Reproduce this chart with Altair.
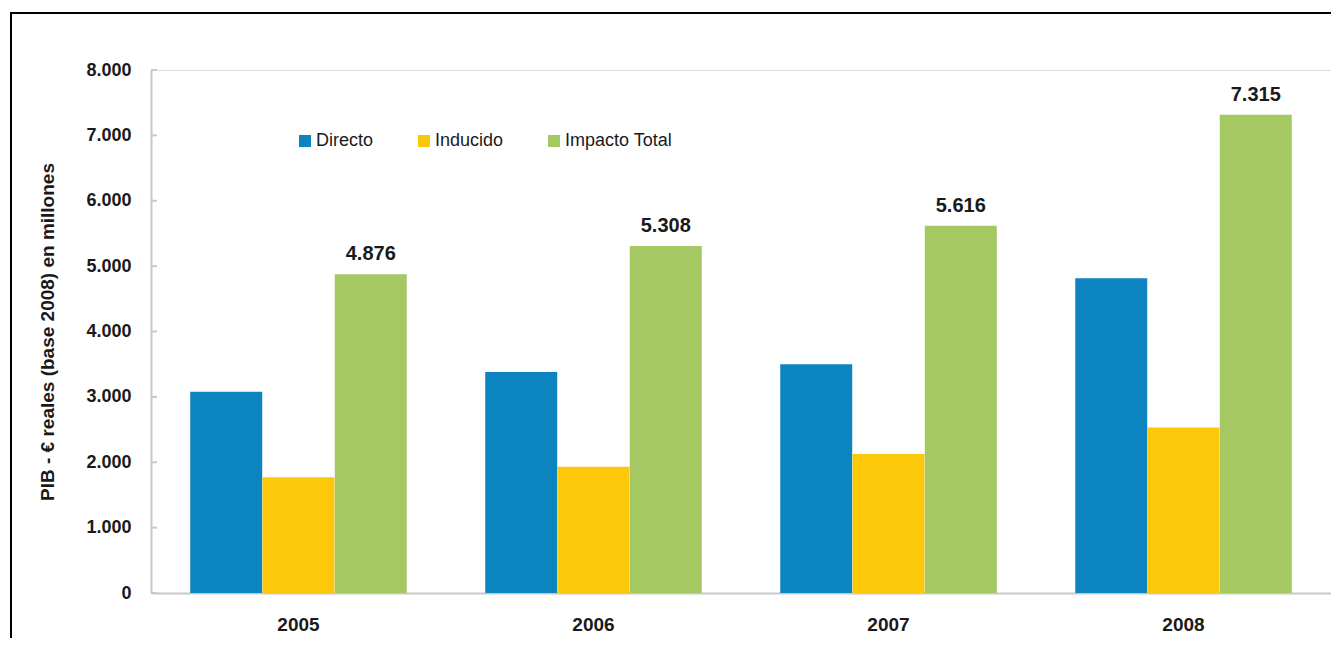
import altair as alt
import pandas as pd

years = ["2005", "2006", "2007", "2008"]
series = ["Directo", "Inducido", "Impacto Total"]
directo = [3080, 3380, 3500, 4815]
inducido = [1770, 1930, 2125, 2530]
total = [4876, 5308, 5616, 7315]
y_ticks = [0, 1000, 2000, 3000, 4000, 5000, 6000, 7000, 8000]
colors = ["#0c84c0", "#fec80a", "#a5c863"]

rows = []
for i, yr in enumerate(years):
    rows.append({"year": yr, "series": "Directo", "value": directo[i]})
    rows.append({"year": yr, "series": "Inducido", "value": inducido[i]})
    rows.append({"year": yr, "series": "Impacto Total", "value": total[i]})
df = pd.DataFrame(rows)

FONT = "Liberation Sans"
AXIS_GRAY = "#c8c8c8"

x_enc = alt.X(
    "year:N",
    sort=years,
    scale=alt.Scale(paddingInner=0.265, paddingOuter=0.1325),
    axis=alt.Axis(
        title=None, ticks=False, tickSize=0, labelAngle=0,
        labelFont=FONT, labelFontSize=19, labelFontWeight="bold",
        labelColor="#1a1a1a", labelPadding=22,
        domainColor=AXIS_GRAY, domainWidth=2,
    ),
)
xoff = alt.XOffset("series:N", sort=series, scale=alt.Scale(domain=series, paddingInner=0, paddingOuter=0))
y_scale = alt.Scale(domain=[0, 8000], nice=False)

bars = alt.Chart(df).mark_bar(size=72).encode(
    x=x_enc,
    xOffset=xoff,
    y=alt.Y(
        "value:Q",
        scale=y_scale,
        axis=alt.Axis(
            title="PIB - € reales (base 2008) en millones",
            values=y_ticks, grid=False, ticks=False, tickSize=0,
            labelExpr="replace(format(datum.value, ',d'), ',', '.')",
            labelFont=FONT, labelFontSize=18, labelFontWeight="bold",
            labelColor="#1a1a1a", labelPadding=20,
            domainColor=AXIS_GRAY, domainWidth=2,
            titleFont=FONT, titleFontSize=19, titleFontWeight="bold",
            titleColor="#1a1a1a", titlePadding=28,
        ),
    ),
    color=alt.Color(
        "series:N",
        sort=series,
        scale=alt.Scale(domain=series, range=colors),
        legend=alt.Legend(
            title=None, orient="none", direction="horizontal",
            legendX=145, legendY=62,
            symbolType="square", symbolSize=144, symbolStrokeWidth=0,
            symbolOpacity=1,
            labelFont=FONT, labelFontSize=18, labelColor="#1a1a1a",
            labelOffset=2, columnPadding=41,
        ),
    ),
)

labels = alt.Chart(df).transform_filter(
    alt.datum.series == "Impacto Total"
).transform_calculate(
    label="replace(format(datum.value, ',d'), ',', '.')"
).mark_text(
    font=FONT, fontSize=20, fontWeight="bold", color="#1a1a1a",
    baseline="alphabetic", dy=-14,
).encode(
    x=alt.X("year:N", sort=years),
    xOffset=xoff,
    y=alt.Y("value:Q", scale=y_scale),
    text="label:N",
)

tick_df = pd.DataFrame({"value": y_ticks})
ticks = alt.Chart(tick_df).mark_rule(color=AXIS_GRAY, strokeWidth=2).encode(
    y=alt.Y("value:Q", scale=y_scale),
    x=alt.value(0),
    x2=alt.value(6),
)

frame = alt.Chart(pd.DataFrame({"a": [0]})).mark_rect(
    filled=False, stroke="#000000", strokeWidth=2
).encode(
    x=alt.value(-140), x2=alt.value(1400),
    y=alt.value(-57), y2=alt.value(800),
)

chart = alt.layer(frame, bars, labels, ticks).properties(
    width=1180, height=523,
    autosize=alt.AutoSizeParams(type="none"),
    padding={"left": 143, "top": 62, "right": 0, "bottom": 45},
).configure_view(stroke=None).configure(background="white")

chart.save("out.html", embed_options={"renderer": "svg", "actions": False})
